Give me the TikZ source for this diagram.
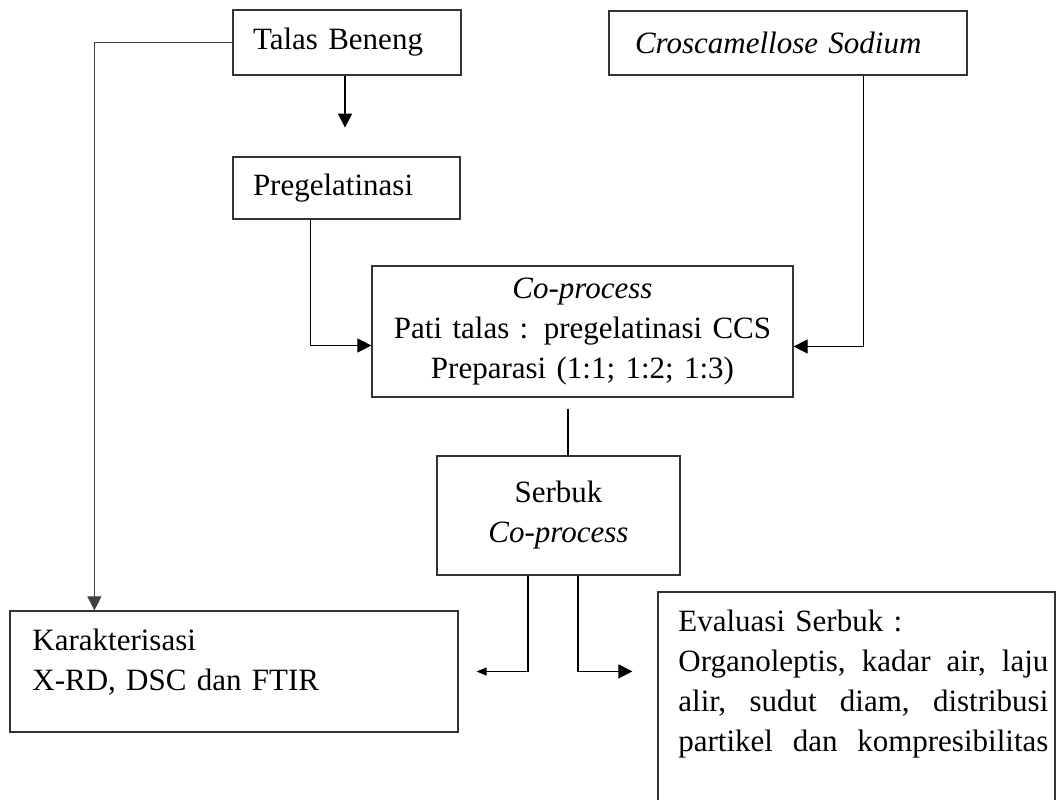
\documentclass[tikz,border=0pt]{standalone}
\usepackage{fontspec}
\setmainfont{Liberation Serif}
\usetikzlibrary{arrows.meta}

\begin{document}
\begin{tikzpicture}[x=0.5pt, y=-0.5pt,
	box/.style={draw=black!80, line width=0.6pt, inner xsep=10pt, inner ysep=0pt, font=\fontsize{15.5}{20}\selectfont},
	txt/.style={inner sep=0pt, font=\fontsize{15.5}{20}\selectfont, align=left},
	conn/.style={line width=0.55pt},
	bigtip/.style={-{Triangle[length=7pt,width=7pt]}},
	smalltip/.style={-{Triangle[length=5pt,width=4pt]}}]
					% Fix the size of the page
					\useasboundingbox (0,0) rectangle (1056,799);
					\clip (0,0) rectangle (1056,799);
					
					% Draw the boxes of the top row
					\node[box, text width=94pt, align=left, minimum height=32.5pt] (talas) at (347,42.5) {Talas Beneng};
					\node[box, inner xsep=13pt, text width=153pt, align=left, minimum height=32pt] (ccs) at (788,43) {\itshape Croscamellose Sodium};
					\node[box, text width=93.5pt, align=left, minimum height=31pt] (pre) at (346.5,188) {Pregelatinasi};
					
					% Draw the co-process box and the powder box
					\node[box, inner xsep=0pt, text width=210.5pt, align=center, minimum height=65.5pt] (cop) at (582.5,331.5) {\textit{Co-process}\\Pati talas : pregelatinasi CCS\\Preparasi (1:1; 1:2; 1:3)};
					\node[box, text width=101.5pt, align=center, minimum height=59.5pt] (ser) at (558.5,515.5) {Serbuk\\\textit{Co-process}};
					
					% Draw the boxes of the bottom row, text set at the top
					\node[box, inner sep=0pt, minimum width=224pt, minimum height=60.5pt] (kar) at (234,671.5) {};
					\node[txt, text width=200pt, anchor=base west] (kar text) at (32,650) {Karakterisasi\\X-RD, DSC dan FTIR};
					\node[box, inner sep=0pt, minimum width=198.5pt, minimum height=124pt] (eval) at (856.5,716) {};
					\node[txt, text width=185pt, anchor=base west] (eval text) at (678,631) {Evaluasi Serbuk :\\
						\makebox[185pt][s]{Organoleptis, \hfill kadar \hfill air, \hfill laju}\\
						\makebox[185pt][s]{alir, \hfill sudut \hfill diam, \hfill distribusi}\\
						\makebox[185pt][s]{partikel \hfill dan \hfill kompresibilitas}};
					
					% Points where the connectors start or end
					\coordinate (kar in) at ([xshift=42.5pt]kar.north west);
					\coordinate (talas tip) at ([xshift=-1pt, yshift=-26pt]talas.south);
					\coordinate (pre out) at ([xshift=39pt]pre.south west);
					\coordinate (ccs out) at ([xshift=127.5pt]ccs.south west);
					\coordinate (cop out) at ([xshift=-7.25pt, yshift=-5.5pt]cop.south);
					\coordinate (ser left) at ([xshift=-15.25pt]ser.south);
					\coordinate (ser right) at ([xshift=9.75pt]ser.south);
					\coordinate (kar tip) at ([xshift=9pt]kar.east);
					\coordinate (eval tip) at ([xshift=-12.5pt, yshift=-40pt]eval.north west);
					
					% Draw line from Talas Beneng down to Karakterisasi
					\draw[line width=0.4pt, black!75, bigtip] (talas.west) -| (kar in);
					
					% Draw arrow below Talas Beneng
					\draw[conn, bigtip] (talas.south -| talas tip) -- (talas tip);
					
					% Draw arrows into the co-process box
					\draw[conn, bigtip] (pre out) |- ([yshift=-7pt]cop.west);
					\draw[conn, bigtip] (ccs out) |- ([yshift=-7.5pt]cop.east);
					
					% Draw line between co-process and powder
					\draw[conn] (cop out) -- (cop out |- ser.north);
					
					% Draw arrows out of the powder box
					\draw[conn, smalltip] (ser left) |- (kar tip);
					\draw[conn, bigtip] (ser right) |- (eval tip);
\end{tikzpicture}
\end{document}
